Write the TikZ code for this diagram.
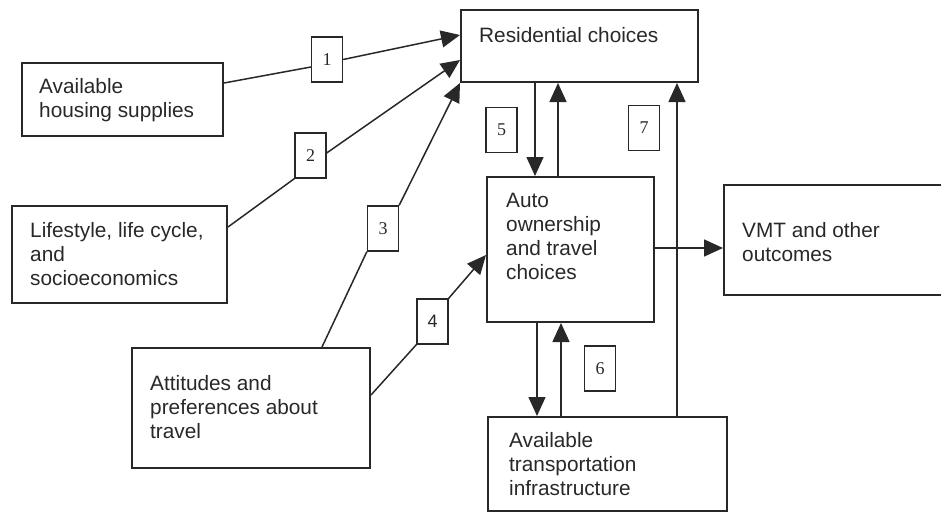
\documentclass[tikz,border=0pt]{standalone}
\usepackage{fontspec}
\setmainfont{Liberation Sans}
\newfontfamily\numfont{Liberation Serif}
\usetikzlibrary{arrows.meta,calc}
\definecolor{ink}{RGB}{40,40,40}
\begin{document}
\begin{tikzpicture}[x=1pt,y=-1pt,
  box/.style={draw=ink,line width=2pt,inner sep=0pt,minimum width=#1},
  txt/.style={anchor=north west,inner sep=0pt,align=left,text=ink,
    font=\fontsize{20.8}{24}\selectfont},
  numbox/.style={draw=ink,line width=1.3pt,minimum width=31pt,minimum height=45pt,
    inner sep=0pt,text=ink,font=\numfont\fontsize{18}{18}\selectfont},
  link/.style={draw=ink,line width=1.5pt},
  arr/.style={link,-{Triangle[length=19pt,width=17pt]}}]
\useasboundingbox (0,0) rectangle (941,514);

% main boxes
\node[box=237pt,minimum height=72pt] (res)   at (579.5,46)  {};
\node[box=201pt,minimum height=73pt] (hs)    at (122.5,99.5){};
\node[box=215pt,minimum height=97pt] (life)  at (119.5,254.5){};
\node[box=238pt,minimum height=120pt](att)   at (251,408)   {};
\node[box=167pt,minimum height=145pt](auto)  at (570.5,249.5){};
\node[box=221pt,minimum height=110pt](vmt)   at (834.5,240) {};
\node[box=239pt,minimum height=94pt] (trans) at (607.5,464) {};

% box texts
\node[txt] (tres)   at (479,27)  {Residential choices};
\node[txt] (ths)    at (39,78)   {Available\\housing supplies};
\node[txt] (tlife)  at (30,222)  {Lifestyle, life cycle,\\and\\socioeconomics};
\node[txt] (tatt)   at (150,375) {Attitudes and\\preferences about\\travel};
\node[txt] (tauto)  at (506,193) {Auto\\ownership\\and travel\\choices};
\node[txt] (tvmt)   at (742,222) {VMT and other\\outcomes};
\node[txt] (ttrans) at (509,432) {Available\\transportation\\infrastructure};

% numbered link labels
\node[numbox] (n1) at (327,59.5)  {1};
\node[numbox] (n2) at (310.5,155.5){2};
\node[numbox] (n3) at (383,228.5) {3};
\node[numbox,font=\fontsize{18}{18}\selectfont] (n4) at (432.5,321.5){4};
\node[numbox] (n5) at (501.5,130) {5};
\node[numbox] (n6) at (600,368.5) {6};
\node[numbox] (n7) at (644,128)   {7};

% x positions of the vertical links
\coordinate (x5d) at (535,0);
\coordinate (x5u) at (558,0);
\coordinate (x6d) at (537,0);
\coordinate (x6u) at (561,0);
\coordinate (x7)  at (677,0);

% links into residential choices
\draw[link] ([yshift=16.5pt]hs.east) -- ([yshift=-7.5pt]n1.west);
\draw[arr]  (n1.east) -- ([yshift=11pt]res.west);
\draw[link] ([yshift=27.5pt]life.east) -- (n2.south west);
\draw[arr]  ([yshift=2.5pt]n2.east) -- ([yshift=-14pt]res.west);
\draw[link] ([xshift=71pt]att.north) -- (n3.south west);
\draw[arr]  (n3.north east) -- (res.south west);

% attitudes to auto ownership
\draw[link] ([yshift=13pt]att.east) -- (n4.south west);
\draw[arr]  (n4.north east) -- ([yshift=-5.5pt]auto.west);

% residential <-> auto ownership
\draw[arr] (res.south -| x5d) -- (auto.north -| x5d);
\draw[arr] (auto.north -| x5u) -- (res.south -| x5u);

% auto ownership <-> transportation infrastructure
\draw[arr] (auto.south -| x6d) -- (trans.north -| x6d);
\draw[arr] (trans.north -| x6u) -- (auto.south -| x6u);

% transportation infrastructure to residential choices
\draw[arr] (trans.north -| x7) -- (res.south -| x7);

% auto ownership to outcomes
\draw[arr] ([yshift=1.5pt]auto.east) -- ([yshift=-8pt]vmt.west);
\end{tikzpicture}
\end{document}
